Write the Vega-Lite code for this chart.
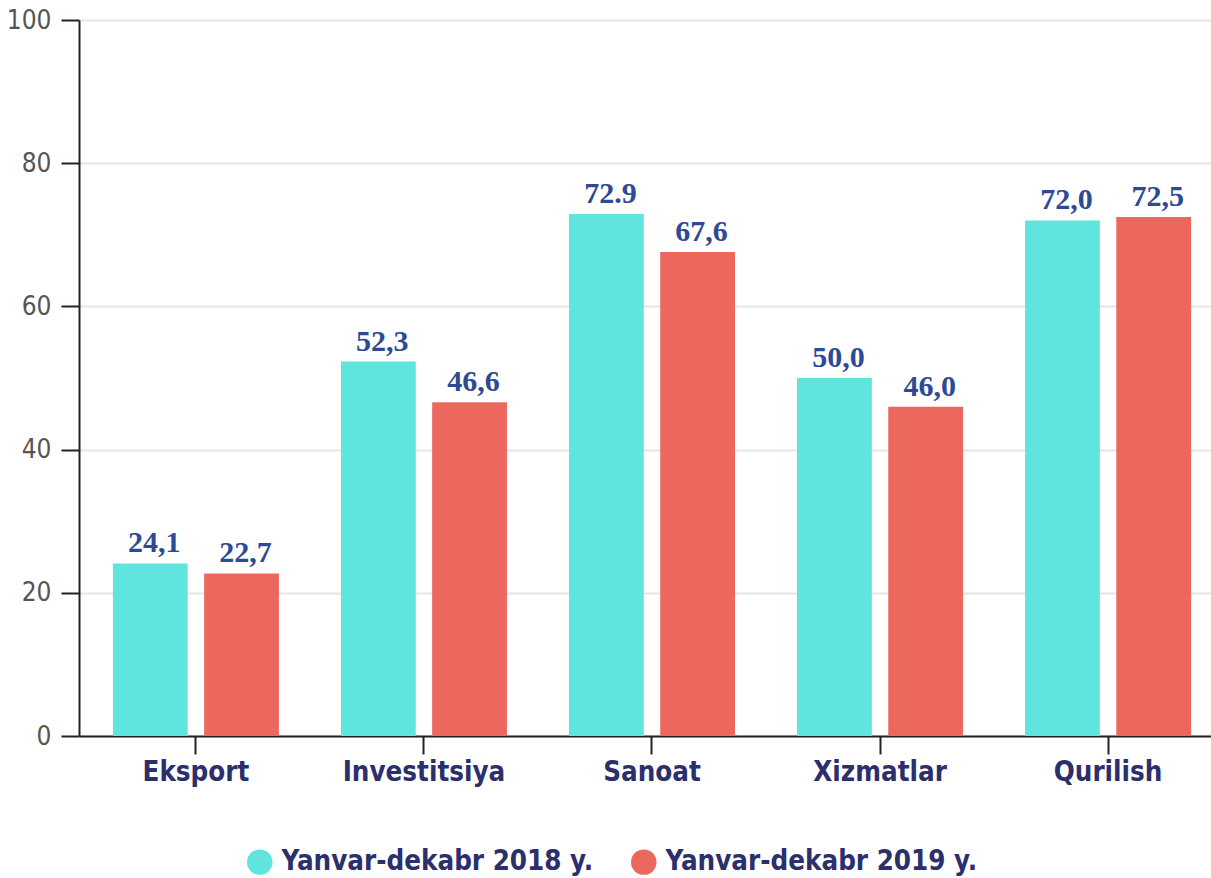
{
  "$schema": "https://vega.github.io/schema/vega-lite/v6.json",
  "width": 1132,
  "height": 716,
  "autosize": "none",
  "padding": {"left": 79, "top": 20, "right": 0, "bottom": 142},
  "background": "white",
  "config": {"view": {"stroke": null}},
  "data": {
    "values": [
      {"cat": "Eksport", "year": "Yanvar-dekabr 2018 y.", "value": 24.1, "label": "24,1"},
      {"cat": "Eksport", "year": "Yanvar-dekabr 2019 y.", "value": 22.7, "label": "22,7"},
      {"cat": "Investitsiya", "year": "Yanvar-dekabr 2018 y.", "value": 52.3, "label": "52,3"},
      {"cat": "Investitsiya", "year": "Yanvar-dekabr 2019 y.", "value": 46.6, "label": "46,6"},
      {"cat": "Sanoat", "year": "Yanvar-dekabr 2018 y.", "value": 72.9, "label": "72.9"},
      {"cat": "Sanoat", "year": "Yanvar-dekabr 2019 y.", "value": 67.6, "label": "67,6"},
      {"cat": "Xizmatlar", "year": "Yanvar-dekabr 2018 y.", "value": 50.0, "label": "50,0"},
      {"cat": "Xizmatlar", "year": "Yanvar-dekabr 2019 y.", "value": 46.0, "label": "46,0"},
      {"cat": "Qurilish", "year": "Yanvar-dekabr 2018 y.", "value": 72.0, "label": "72,0"},
      {"cat": "Qurilish", "year": "Yanvar-dekabr 2019 y.", "value": 72.5, "label": "72,5"}
    ]
  },
  "encoding": {
    "x": {
      "field": "cat", "type": "nominal", "sort": null,
      "scale": {"paddingInner": 0.272, "paddingOuter": 0.118, "align": 0.63},
      "axis": {
        "title": null, "labelAngle": 0, "domainColor": "#222", "domainWidth": 2,
        "tickColor": "#222", "tickWidth": 2, "tickSize": 18,
        "labelFont": "Liberation Sans Narrow, DejaVu Sans Condensed, Roboto",
        "labelFontSize": 27.5, "labelFontWeight": "bold", "labelColor": "#2b2f6b",
        "labelPadding": 4, "grid": false
      }
    },
    "xOffset": {"field": "year", "type": "nominal", "scale": {"paddingInner": 0.18}},
    "y": {
      "field": "value", "type": "quantitative",
      "scale": {"domain": [0, 100]},
      "axis": {
        "title": null, "values": [0, 20, 40, 60, 80, 100],
        "domainColor": "#222", "domainWidth": 2,
        "tickColor": "#222", "tickWidth": 2, "tickSize": 18,
        "labelFont": "Liberation Sans Narrow, DejaVu Sans Condensed, Roboto",
        "labelFontSize": 26, "labelColor": "#555", "labelPadding": 10,
        "gridColor": "#e6e6e6", "gridWidth": 2
      }
    }
  },
  "layer": [
    {
      "mark": {"type": "bar"},
      "encoding": {
        "color": {
          "field": "year", "type": "nominal",
          "scale": {"range": ["#5fe5dd", "#ec685e"]},
          "legend": {
            "title": null, "orient": "none", "legendX": 167, "legendY": 828,
            "direction": "horizontal", "columns": 2, "symbolType": "circle",
            "symbolSize": 650, "symbolStrokeWidth": 0, "columnPadding": 36,
            "labelFont": "Liberation Sans Narrow, DejaVu Sans Condensed, Roboto",
            "labelFontSize": 27.5, "labelFontWeight": "bold", "labelColor": "#2b2f6b",
            "labelLimit": 0, "labelOffset": 8
          }
        }
      }
    },
    {
      "mark": {
        "type": "text", "baseline": "bottom", "dy": -5, "dx": 4,
        "font": "Liberation Serif", "fontSize": 30, "fontWeight": "bold",
        "color": "#2d4a94"
      },
      "encoding": {"text": {"field": "label"}}
    }
  ]
}
